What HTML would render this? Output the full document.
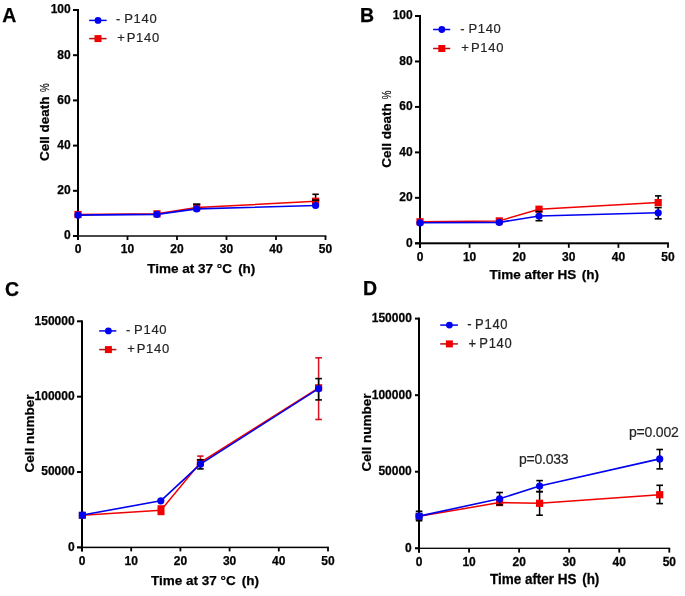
<!DOCTYPE html>
<html><head><meta charset="utf-8"><style>
html,body{margin:0;padding:0;background:#fff;}
svg{display:block;font-family:"Liberation Sans",sans-serif;will-change:transform;}
</style></head><body>
<svg width="685" height="596" viewBox="0 0 685 596">
<rect x="77" y="9" width="2" height="231" fill="#000"/>
<rect x="73" y="235.15" width="253.4" height="1.7" fill="#2a2a2a"/>
<rect x="73" y="235" width="5" height="2" fill="#000"/>
<text x="70.7" y="239.4" font-size="12" font-weight="bold" text-anchor="end" fill="#000" stroke="#000" stroke-width="0.25" >0</text>
<rect x="73" y="189.8" width="5" height="2" fill="#000"/>
<text x="70.7" y="194.2" font-size="12" font-weight="bold" text-anchor="end" fill="#000" stroke="#000" stroke-width="0.25" >20</text>
<rect x="73" y="144.6" width="5" height="2" fill="#000"/>
<text x="70.7" y="149" font-size="12" font-weight="bold" text-anchor="end" fill="#000" stroke="#000" stroke-width="0.25" >40</text>
<rect x="73" y="99.4" width="5" height="2" fill="#000"/>
<text x="70.7" y="103.8" font-size="12" font-weight="bold" text-anchor="end" fill="#000" stroke="#000" stroke-width="0.25" >60</text>
<rect x="73" y="54.2" width="5" height="2" fill="#000"/>
<text x="70.7" y="58.6" font-size="12" font-weight="bold" text-anchor="end" fill="#000" stroke="#000" stroke-width="0.25" >80</text>
<rect x="73" y="9" width="5" height="2" fill="#000"/>
<text x="70.7" y="13.4" font-size="12" font-weight="bold" text-anchor="end" fill="#000" stroke="#000" stroke-width="0.25" >100</text>
<rect x="77.1" y="236" width="1.8" height="4" fill="#000"/>
<text x="78" y="252.6" font-size="12" font-weight="bold" text-anchor="middle" fill="#000" stroke="#000" stroke-width="0.25" >0</text>
<rect x="126.6" y="236" width="1.8" height="4" fill="#000"/>
<text x="127.5" y="252.6" font-size="12" font-weight="bold" text-anchor="middle" fill="#000" stroke="#000" stroke-width="0.25" >10</text>
<rect x="176.1" y="236" width="1.8" height="4" fill="#000"/>
<text x="177" y="252.6" font-size="12" font-weight="bold" text-anchor="middle" fill="#000" stroke="#000" stroke-width="0.25" >20</text>
<rect x="225.6" y="236" width="1.8" height="4" fill="#000"/>
<text x="226.5" y="252.6" font-size="12" font-weight="bold" text-anchor="middle" fill="#000" stroke="#000" stroke-width="0.25" >30</text>
<rect x="275.1" y="236" width="1.8" height="4" fill="#000"/>
<text x="276" y="252.6" font-size="12" font-weight="bold" text-anchor="middle" fill="#000" stroke="#000" stroke-width="0.25" >40</text>
<rect x="324.6" y="236" width="1.8" height="4" fill="#000"/>
<text x="325.5" y="252.6" font-size="12" font-weight="bold" text-anchor="middle" fill="#000" stroke="#000" stroke-width="0.25" >50</text>
<text x="147.3" y="273.2" font-size="13.5" font-weight="bold" text-anchor="start" fill="#000" stroke="#000" stroke-width="0.25" >Time at 37 °C <tspan dx="2.4">(h)</tspan></text>
<text transform="translate(49.2,161) rotate(-90)" font-size="13.5" font-weight="bold" fill="#000" stroke="#000" stroke-width="0.25">Cell death</text>
<text x="2.3" y="21.6" font-size="19.5" font-weight="bold" text-anchor="start" fill="#000" stroke="#000" stroke-width="0.25" >A</text>
<line x1="89.2" y1="20.4" x2="106.6" y2="20.4" stroke="#0000f0" stroke-width="1.5"/>
<circle cx="98" cy="20.4" r="3.4" fill="#0000f0"/>
<line x1="89.2" y1="38.6" x2="106.6" y2="38.6" stroke="#b01010" stroke-width="1.5"/>
<rect x="94.5" y="35.1" width="7" height="7" fill="#f00000"/>
<text x="115.9" y="23.4" font-size="13" font-weight="normal" text-anchor="start" fill="#252525" stroke="#252525" stroke-width="0.2" >-</text>
<text x="124.2" y="23.4" font-size="13" font-weight="normal" text-anchor="start" fill="#252525" stroke="#252525" stroke-width="0.2" letter-spacing="0.7">P140</text>
<text x="117.3" y="41.8" font-size="13" font-weight="normal" text-anchor="start" fill="#252525" stroke="#252525" stroke-width="0.2" >+</text>
<text x="126.7" y="41.8" font-size="13" font-weight="normal" text-anchor="start" fill="#252525" stroke="#252525" stroke-width="0.2" letter-spacing="0.7">P140</text>
<rect x="419" y="15" width="2" height="232.8" fill="#000"/>
<rect x="415" y="242.3" width="253.9" height="2" fill="#000"/>
<rect x="415" y="242.3" width="5" height="2" fill="#000"/>
<text x="412.7" y="246.7" font-size="12" font-weight="bold" text-anchor="end" fill="#000" stroke="#000" stroke-width="0.25" >0</text>
<rect x="415" y="196.84" width="5" height="2" fill="#000"/>
<text x="412.7" y="201.24" font-size="12" font-weight="bold" text-anchor="end" fill="#000" stroke="#000" stroke-width="0.25" >20</text>
<rect x="415" y="151.38" width="5" height="2" fill="#000"/>
<text x="412.7" y="155.78" font-size="12" font-weight="bold" text-anchor="end" fill="#000" stroke="#000" stroke-width="0.25" >40</text>
<rect x="415" y="105.92" width="5" height="2" fill="#000"/>
<text x="412.7" y="110.32" font-size="12" font-weight="bold" text-anchor="end" fill="#000" stroke="#000" stroke-width="0.25" >60</text>
<rect x="415" y="60.46" width="5" height="2" fill="#000"/>
<text x="412.7" y="64.86" font-size="12" font-weight="bold" text-anchor="end" fill="#000" stroke="#000" stroke-width="0.25" >80</text>
<rect x="415" y="15" width="5" height="2" fill="#000"/>
<text x="412.7" y="19.4" font-size="12" font-weight="bold" text-anchor="end" fill="#000" stroke="#000" stroke-width="0.25" >100</text>
<rect x="419.1" y="243.3" width="1.8" height="4.5" fill="#000"/>
<text x="420" y="260.9" font-size="12" font-weight="bold" text-anchor="middle" fill="#000" stroke="#000" stroke-width="0.25" >0</text>
<rect x="468.7" y="243.3" width="1.8" height="4.5" fill="#000"/>
<text x="469.6" y="260.9" font-size="12" font-weight="bold" text-anchor="middle" fill="#000" stroke="#000" stroke-width="0.25" >10</text>
<rect x="518.3" y="243.3" width="1.8" height="4.5" fill="#000"/>
<text x="519.2" y="260.9" font-size="12" font-weight="bold" text-anchor="middle" fill="#000" stroke="#000" stroke-width="0.25" >20</text>
<rect x="567.9" y="243.3" width="1.8" height="4.5" fill="#000"/>
<text x="568.8" y="260.9" font-size="12" font-weight="bold" text-anchor="middle" fill="#000" stroke="#000" stroke-width="0.25" >30</text>
<rect x="617.5" y="243.3" width="1.8" height="4.5" fill="#000"/>
<text x="618.4" y="260.9" font-size="12" font-weight="bold" text-anchor="middle" fill="#000" stroke="#000" stroke-width="0.25" >40</text>
<rect x="667.1" y="243.3" width="1.8" height="4.5" fill="#000"/>
<text x="668" y="260.9" font-size="12" font-weight="bold" text-anchor="middle" fill="#000" stroke="#000" stroke-width="0.25" >50</text>
<text x="489.4" y="279.1" font-size="13.5" font-weight="bold" text-anchor="start" fill="#000" stroke="#000" stroke-width="0.25" >Time after HS <tspan dx="1.8">(h)</tspan></text>
<text transform="translate(390.8,167.8) rotate(-90)" font-size="13.5" font-weight="bold" fill="#000" stroke="#000" stroke-width="0.25">Cell death</text>
<text x="359.9" y="21.6" font-size="19.5" font-weight="bold" text-anchor="start" fill="#000" stroke="#000" stroke-width="0.25" >B</text>
<line x1="433.1" y1="29.5" x2="450.2" y2="29.5" stroke="#0000f0" stroke-width="1.5"/>
<circle cx="441.8" cy="29.5" r="3.4" fill="#0000f0"/>
<line x1="433.1" y1="48.5" x2="450.2" y2="48.5" stroke="#b01010" stroke-width="1.5"/>
<rect x="438.3" y="45" width="7" height="7" fill="#f00000"/>
<text x="460.3" y="32.5" font-size="13" font-weight="normal" text-anchor="start" fill="#252525" stroke="#252525" stroke-width="0.2" >-</text>
<text x="468.4" y="32.5" font-size="13" font-weight="normal" text-anchor="start" fill="#252525" stroke="#252525" stroke-width="0.2" letter-spacing="0.7">P140</text>
<text x="461.3" y="51.7" font-size="13" font-weight="normal" text-anchor="start" fill="#252525" stroke="#252525" stroke-width="0.2" >+</text>
<text x="471" y="51.7" font-size="13" font-weight="normal" text-anchor="start" fill="#252525" stroke="#252525" stroke-width="0.2" letter-spacing="0.7">P140</text>
<rect x="81" y="320.4" width="2" height="231" fill="#000"/>
<rect x="77" y="546.65" width="251.9" height="1.5" fill="#000"/>
<rect x="77" y="546.4" width="5" height="2" fill="#000"/>
<text x="74.6" y="550.8" font-size="12" font-weight="bold" text-anchor="end" fill="#000" stroke="#000" stroke-width="0.25" >0</text>
<rect x="77" y="471.03" width="5" height="2" fill="#000"/>
<text x="74.6" y="475.43" font-size="12" font-weight="bold" text-anchor="end" fill="#000" stroke="#000" stroke-width="0.25" >50000</text>
<rect x="77" y="395.67" width="5" height="2" fill="#000"/>
<text x="74.6" y="400.07" font-size="12" font-weight="bold" text-anchor="end" fill="#000" stroke="#000" stroke-width="0.25" >100000</text>
<rect x="77" y="320.3" width="5" height="2" fill="#000"/>
<text x="74.6" y="324.7" font-size="12" font-weight="bold" text-anchor="end" fill="#000" stroke="#000" stroke-width="0.25" >150000</text>
<rect x="81.1" y="547.4" width="1.8" height="4" fill="#000"/>
<text x="82" y="564.6" font-size="12" font-weight="bold" text-anchor="middle" fill="#000" stroke="#000" stroke-width="0.25" >0</text>
<rect x="130.3" y="547.4" width="1.8" height="4" fill="#000"/>
<text x="131.2" y="564.6" font-size="12" font-weight="bold" text-anchor="middle" fill="#000" stroke="#000" stroke-width="0.25" >10</text>
<rect x="179.5" y="547.4" width="1.8" height="4" fill="#000"/>
<text x="180.4" y="564.6" font-size="12" font-weight="bold" text-anchor="middle" fill="#000" stroke="#000" stroke-width="0.25" >20</text>
<rect x="228.7" y="547.4" width="1.8" height="4" fill="#000"/>
<text x="229.6" y="564.6" font-size="12" font-weight="bold" text-anchor="middle" fill="#000" stroke="#000" stroke-width="0.25" >30</text>
<rect x="277.9" y="547.4" width="1.8" height="4" fill="#000"/>
<text x="278.8" y="564.6" font-size="12" font-weight="bold" text-anchor="middle" fill="#000" stroke="#000" stroke-width="0.25" >40</text>
<rect x="327.1" y="547.4" width="1.8" height="4" fill="#000"/>
<text x="328" y="564.6" font-size="12" font-weight="bold" text-anchor="middle" fill="#000" stroke="#000" stroke-width="0.25" >50</text>
<text x="151" y="584.5" font-size="13.5" font-weight="bold" text-anchor="start" fill="#000" stroke="#000" stroke-width="0.25" >Time at 37 °C <tspan dx="2.4">(h)</tspan></text>
<text transform="translate(33.6,472.5) rotate(-90)" font-size="13.5" font-weight="bold" fill="#000" stroke="#000" stroke-width="0.25">Cell number</text>
<text x="5" y="295.5" font-size="19.5" font-weight="bold" text-anchor="start" fill="#000" stroke="#000" stroke-width="0.25" >C</text>
<line x1="99.2" y1="330.9" x2="116.3" y2="330.9" stroke="#0000f0" stroke-width="1.5"/>
<circle cx="108.4" cy="330.9" r="3.4" fill="#0000f0"/>
<line x1="99.2" y1="349.6" x2="116.3" y2="349.6" stroke="#b01010" stroke-width="1.5"/>
<rect x="104.9" y="346.1" width="7" height="7" fill="#f00000"/>
<text x="125.9" y="334.4" font-size="13" font-weight="normal" text-anchor="start" fill="#252525" stroke="#252525" stroke-width="0.2" >-</text>
<text x="134.1" y="334.4" font-size="13" font-weight="normal" text-anchor="start" fill="#252525" stroke="#252525" stroke-width="0.2" letter-spacing="0.7">P140</text>
<text x="127.3" y="353.3" font-size="13" font-weight="normal" text-anchor="start" fill="#252525" stroke="#252525" stroke-width="0.2" >+</text>
<text x="136.7" y="353.3" font-size="13" font-weight="normal" text-anchor="start" fill="#252525" stroke="#252525" stroke-width="0.2" letter-spacing="0.7">P140</text>
<rect x="418" y="317.6" width="2" height="235" fill="#000"/>
<rect x="415" y="547.65" width="255.2" height="1.3" fill="#000"/>
<rect x="415" y="547.3" width="4" height="2" fill="#000"/>
<text transform="translate(411.8,551.7) scale(1,1.13)" font-size="12" font-weight="bold" text-anchor="end" fill="#000" stroke="#000" stroke-width="0.25" >0</text>
<rect x="415" y="470.73" width="4" height="2" fill="#000"/>
<text transform="translate(411.8,475.13) scale(1,1.13)" font-size="12" font-weight="bold" text-anchor="end" fill="#000" stroke="#000" stroke-width="0.25" >50000</text>
<rect x="415" y="394.17" width="4" height="2" fill="#000"/>
<text transform="translate(411.8,398.57) scale(1,1.13)" font-size="12" font-weight="bold" text-anchor="end" fill="#000" stroke="#000" stroke-width="0.25" >100000</text>
<rect x="415" y="317.6" width="4" height="2" fill="#000"/>
<text transform="translate(411.8,322) scale(1,1.13)" font-size="12" font-weight="bold" text-anchor="end" fill="#000" stroke="#000" stroke-width="0.25" >150000</text>
<rect x="418.1" y="548.3" width="1.8" height="4.3" fill="#000"/>
<text transform="translate(419,565.6) scale(1,1.13)" font-size="12" font-weight="bold" text-anchor="middle" fill="#000" stroke="#000" stroke-width="0.25" >0</text>
<rect x="468.16" y="548.3" width="1.8" height="4.3" fill="#000"/>
<text transform="translate(469.06,565.6) scale(1,1.13)" font-size="12" font-weight="bold" text-anchor="middle" fill="#000" stroke="#000" stroke-width="0.25" >10</text>
<rect x="518.22" y="548.3" width="1.8" height="4.3" fill="#000"/>
<text transform="translate(519.12,565.6) scale(1,1.13)" font-size="12" font-weight="bold" text-anchor="middle" fill="#000" stroke="#000" stroke-width="0.25" >20</text>
<rect x="568.28" y="548.3" width="1.8" height="4.3" fill="#000"/>
<text transform="translate(569.18,565.6) scale(1,1.13)" font-size="12" font-weight="bold" text-anchor="middle" fill="#000" stroke="#000" stroke-width="0.25" >30</text>
<rect x="618.34" y="548.3" width="1.8" height="4.3" fill="#000"/>
<text transform="translate(619.24,565.6) scale(1,1.13)" font-size="12" font-weight="bold" text-anchor="middle" fill="#000" stroke="#000" stroke-width="0.25" >40</text>
<rect x="668.4" y="548.3" width="1.8" height="4.3" fill="#000"/>
<text transform="translate(669.3,565.6) scale(1,1.13)" font-size="12" font-weight="bold" text-anchor="middle" fill="#000" stroke="#000" stroke-width="0.25" >50</text>
<text transform="translate(489.9,583.6) scale(1,1.13)" font-size="13.5" font-weight="bold" text-anchor="start" fill="#000" stroke="#000" stroke-width="0.25" >Time after HS <tspan dx="1.8">(h)</tspan></text>
<text transform="translate(370.9,471.4) rotate(-90)" font-size="13.5" font-weight="bold" fill="#000" stroke="#000" stroke-width="0.25">Cell number</text>
<text x="363" y="295.2" font-size="19.5" font-weight="bold" text-anchor="start" fill="#000" stroke="#000" stroke-width="0.25" >D</text>
<line x1="440.2" y1="325.1" x2="457.9" y2="325.1" stroke="#0000f0" stroke-width="1.5"/>
<circle cx="449.4" cy="325.1" r="3.4" fill="#0000f0"/>
<line x1="440.2" y1="343.9" x2="457.9" y2="343.9" stroke="#b01010" stroke-width="1.5"/>
<rect x="445.9" y="340.4" width="7" height="7" fill="#f00000"/>
<text transform="translate(467.3,329.1) scale(1,1.1)" font-size="13" font-weight="normal" text-anchor="start" fill="#252525" stroke="#252525" stroke-width="0.2" >-</text>
<text transform="translate(475.1,329.1) scale(1,1.1)" font-size="13" font-weight="normal" text-anchor="start" fill="#252525" stroke="#252525" stroke-width="0.2" letter-spacing="0.7">P140</text>
<text transform="translate(468.6,348.1) scale(1,1.1)" font-size="13" font-weight="normal" text-anchor="start" fill="#252525" stroke="#252525" stroke-width="0.2" >+</text>
<text transform="translate(479.3,348.1) scale(1,1.1)" font-size="13" font-weight="normal" text-anchor="start" fill="#252525" stroke="#252525" stroke-width="0.2" letter-spacing="0.7">P140</text>
<rect x="314.85" y="194.3" width="1.5" height="6.7" fill="#000"/>
<rect x="312.4" y="193.5" width="6.4" height="1.6" fill="#000"/>
<polyline points="78,214.5 157,213.8 196.7,207.6 315.6,201.2" fill="none" stroke="#f00000" stroke-width="1.5" stroke-linejoin="round"/>
<rect x="74.4" y="210.9" width="7.2" height="7.2" fill="#f00000"/>
<rect x="153.4" y="210.2" width="7.2" height="7.2" fill="#f00000"/>
<rect x="193.1" y="204" width="7.2" height="7.2" fill="#f00000"/>
<rect x="312" y="197.6" width="7.2" height="7.2" fill="#f00000"/>
<rect x="193.1" y="203.3" width="7.2" height="1.6" fill="#000"/>
<rect x="314.85" y="200.1" width="1.5" height="4.9" fill="#000"/>
<rect x="311.9" y="199.3" width="7.4" height="1.6" fill="#000"/>
<polyline points="78,215.1 157,214.4 196.7,208.9 315.6,205.5" fill="none" stroke="#0000f0" stroke-width="1.6" stroke-linejoin="round"/>
<circle cx="78" cy="215.1" r="3.6" fill="#0000f0"/>
<circle cx="157" cy="214.4" r="3.6" fill="#0000f0"/>
<circle cx="196.7" cy="208.9" r="3.6" fill="#0000f0"/>
<circle cx="315.6" cy="205.5" r="3.6" fill="#0000f0"/>
<rect x="657.45" y="195.9" width="1.5" height="9.1" fill="#000"/>
<rect x="655" y="195.1" width="6.4" height="1.6" fill="#000"/>
<polyline points="420,221.8 499.3,220.9 539,209.2 658.2,202.6" fill="none" stroke="#f00000" stroke-width="1.5" stroke-linejoin="round"/>
<rect x="416.4" y="218.2" width="7.2" height="7.2" fill="#f00000"/>
<rect x="495.7" y="217.3" width="7.2" height="7.2" fill="#f00000"/>
<rect x="535.4" y="205.6" width="7.2" height="7.2" fill="#f00000"/>
<rect x="654.6" y="199" width="7.2" height="7.2" fill="#f00000"/>
<rect x="538.25" y="211.5" width="1.5" height="9.2" fill="#000"/>
<rect x="535.5" y="210.7" width="7" height="1.6" fill="#000"/>
<rect x="535.5" y="219.9" width="7" height="1.6" fill="#000"/>
<rect x="657.45" y="207.6" width="1.5" height="11.2" fill="#000"/>
<rect x="654.7" y="206.8" width="7" height="1.6" fill="#000"/>
<rect x="654.7" y="218" width="7" height="1.6" fill="#000"/>
<polyline points="420,222.8 499.3,222.4 539,216 658.2,212.8" fill="none" stroke="#0000f0" stroke-width="1.6" stroke-linejoin="round"/>
<circle cx="420" cy="222.8" r="3.6" fill="#0000f0"/>
<circle cx="499.3" cy="222.4" r="3.6" fill="#0000f0"/>
<circle cx="539" cy="216" r="3.6" fill="#0000f0"/>
<circle cx="658.2" cy="212.8" r="3.6" fill="#0000f0"/>
<rect x="199.65" y="456.1" width="1.5" height="12.8" fill="#d81020"/>
<rect x="197.2" y="455.3" width="6.4" height="1.6" fill="#d81020"/>
<rect x="317.85" y="357.8" width="1.5" height="61.7" fill="#d81020"/>
<rect x="315.3" y="357" width="6.6" height="1.6" fill="#d81020"/>
<rect x="315.3" y="418.7" width="6.6" height="1.6" fill="#d81020"/>
<polyline points="82.3,515.3 161,510.2 200.4,462.5 318.6,387.8" fill="none" stroke="#f00000" stroke-width="1.5" stroke-linejoin="round"/>
<rect x="78.7" y="511.7" width="7.2" height="7.2" fill="#3a0a70"/>
<rect x="157.5" y="505.2" width="7" height="10" fill="#f00000"/>
<rect x="196.8" y="458.9" width="7.2" height="7.2" fill="#f00000"/>
<rect x="315" y="384.2" width="7.2" height="7.2" fill="#f00000"/>
<rect x="199.65" y="459.8" width="1.5" height="9.1" fill="#000"/>
<rect x="197.1" y="459" width="6.6" height="1.6" fill="#000"/>
<rect x="197.1" y="468.1" width="6.6" height="1.6" fill="#000"/>
<rect x="317.85" y="378.6" width="1.5" height="21.3" fill="#000"/>
<rect x="315.3" y="377.8" width="6.6" height="1.6" fill="#000"/>
<rect x="315.3" y="399.1" width="6.6" height="1.6" fill="#000"/>
<polyline points="82.5,515 160.8,500.8 200.4,464.2 318.6,388.6" fill="none" stroke="#0000f0" stroke-width="1.6" stroke-linejoin="round"/>
<circle cx="82.5" cy="515" r="3.6" fill="#0000f0"/>
<circle cx="160.8" cy="500.8" r="3.6" fill="#0000f0"/>
<circle cx="200.4" cy="464.2" r="3.6" fill="#0000f0"/>
<circle cx="318.6" cy="388.6" r="3.6" fill="#0000f0"/>
<rect x="538.85" y="491.6" width="1.5" height="23.6" fill="#000"/>
<rect x="536.3" y="490.8" width="6.6" height="1.6" fill="#000"/>
<rect x="536.3" y="514.4" width="6.6" height="1.6" fill="#000"/>
<rect x="658.95" y="485.3" width="1.5" height="18.3" fill="#000"/>
<rect x="656.4" y="484.5" width="6.6" height="1.6" fill="#000"/>
<rect x="656.4" y="502.8" width="6.6" height="1.6" fill="#000"/>
<polyline points="419.1,516.3 499.6,502.6 539.6,503.3 659.7,494.7" fill="none" stroke="#f00000" stroke-width="1.5" stroke-linejoin="round"/>
<rect x="415.5" y="512.7" width="7.2" height="7.2" fill="#2a0a60"/>
<rect x="496" y="499" width="7.2" height="7.2" fill="#f00000"/>
<rect x="536" y="499.7" width="7.2" height="7.2" fill="#f00000"/>
<rect x="656.1" y="491.1" width="7.2" height="7.2" fill="#f00000"/>
<rect x="418.35" y="511.3" width="1.5" height="9.4" fill="#000"/>
<rect x="415.8" y="510.5" width="6.6" height="1.6" fill="#000"/>
<rect x="415.8" y="519.9" width="6.6" height="1.6" fill="#000"/>
<rect x="498.85" y="492.5" width="1.5" height="12.4" fill="#000"/>
<rect x="496.3" y="491.7" width="6.6" height="1.6" fill="#000"/>
<rect x="496.3" y="504.1" width="6.6" height="1.6" fill="#000"/>
<rect x="538.85" y="480.6" width="1.5" height="11.1" fill="#000"/>
<rect x="536.3" y="479.8" width="6.6" height="1.6" fill="#000"/>
<rect x="536.3" y="490.9" width="6.6" height="1.6" fill="#000"/>
<rect x="658.95" y="449.5" width="1.5" height="19.4" fill="#000"/>
<rect x="656.4" y="448.7" width="6.6" height="1.6" fill="#000"/>
<rect x="656.4" y="468.1" width="6.6" height="1.6" fill="#000"/>
<polyline points="419.1,516.1 499.6,498.8 539.6,486 659.7,458.9" fill="none" stroke="#0000f0" stroke-width="1.6" stroke-linejoin="round"/>
<circle cx="419.1" cy="516.1" r="3.6" fill="#0000f0"/>
<circle cx="499.6" cy="498.8" r="3.6" fill="#0000f0"/>
<circle cx="539.6" cy="486" r="3.6" fill="#0000f0"/>
<circle cx="659.7" cy="458.9" r="3.6" fill="#0000f0"/>
<text transform="translate(49,92) rotate(-90) scale(0.75,1)" font-size="13" fill="#111" stroke="#111" stroke-width="0.2">%</text>
<text transform="translate(390.8,99.2) rotate(-90) scale(0.75,1)" font-size="13" fill="#111" stroke="#111" stroke-width="0.2">%</text>
<text x="519" y="463.6" font-size="14" font-weight="normal" text-anchor="start" fill="#252525" stroke="#252525" stroke-width="0.2" letter-spacing="-0.25">p=0.033</text>
<text x="629" y="437.4" font-size="14" font-weight="normal" text-anchor="start" fill="#252525" stroke="#252525" stroke-width="0.2" letter-spacing="-0.2">p=0.002</text>
</svg>
</body></html>
